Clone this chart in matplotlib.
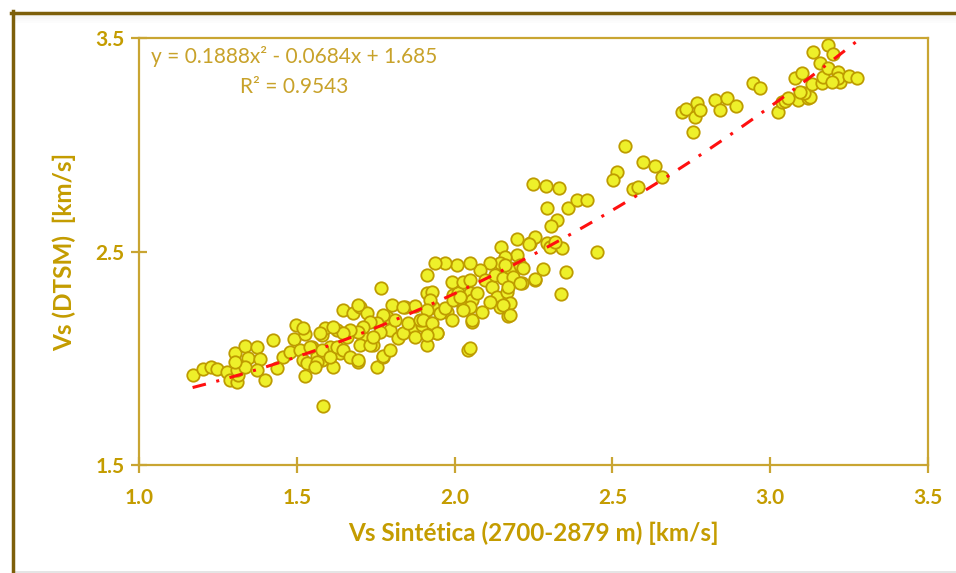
import numpy as np
import matplotlib
matplotlib.use("Agg")
import matplotlib.pyplot as plt
from matplotlib.lines import Line2D
from matplotlib.patches import Rectangle

# ---------------- data ----------------
vs_synthetic = [
    1.169, 1.203, 1.227, 1.247, 1.278, 1.288, 1.309, 1.313, 1.309, 1.303,
    1.335, 1.372, 1.346, 1.383, 1.335, 1.372, 1.399, 1.303, 1.425, 1.436,
    1.457, 1.478, 1.497, 1.490, 1.510, 1.525, 1.520, 1.525, 1.547, 1.562,
    1.578, 1.578, 1.589, 1.605, 1.615, 1.626, 1.636, 1.647, 1.658, 1.679,
    1.700, 1.710, 1.694, 1.721, 1.742, 1.753, 1.774, 1.768, 1.784, 1.800,
    1.795, 1.821, 1.842, 1.874, 1.869, 1.911, 1.911, 1.922, 1.932, 1.943,
    1.927, 1.975, 1.996, 2.011, 2.027, 2.049, 2.043, 2.054, 2.054, 1.581,
    1.694, 1.811, 1.774, 1.753, 1.763, 1.731, 1.710, 1.694, 1.668, 1.647,
    1.615, 1.573, 1.541, 1.520, 1.531, 1.562, 1.578, 1.557, 1.605, 1.626,
    1.647, 1.668, 1.694, 1.700, 1.731, 1.742, 1.774, 1.795, 1.837, 1.853,
    1.874, 1.895, 1.890, 1.837, 2.146, 2.197, 2.239, 2.255, 2.197, 2.159,
    2.144, 2.112, 2.080, 2.049, 2.006, 1.969, 1.938, 1.911, 1.922, 1.911,
    1.900, 1.927, 1.953, 1.969, 1.990, 2.027, 2.049, 2.070, 2.096, 2.117,
    2.128, 2.154, 2.175, 2.159, 2.207, 2.218, 2.186, 2.212, 2.255, 2.133,
    2.165, 2.175, 2.144, 2.112, 2.086, 2.049, 2.027, 1.996, 2.054, 2.170,
    1.943, 1.911, 2.049, 1.990, 2.017, 2.337, 2.281, 2.255, 2.352, 2.452,
    2.236, 2.292, 2.302, 2.339, 2.318, 2.170, 2.207, 2.152, 2.175,
    2.249, 2.289, 2.332, 2.294, 2.358, 2.389, 2.420, 2.325, 2.305, 2.514,
    2.503, 2.566, 2.580, 2.541, 2.596, 2.635, 2.656,
    2.720, 2.733, 2.762, 2.767, 2.778, 2.757, 2.827, 2.841, 2.864, 2.891,
    2.947, 2.968, 3.024, 3.037, 3.049, 3.079, 3.100, 3.089, 3.121, 3.127,
    3.107, 3.132, 3.137, 3.158, 3.183, 3.200, 3.164, 3.169, 3.185, 3.216,
    3.222, 3.216, 3.251, 3.276, 3.195, 3.058, 3.095,
]
vs_dtsm = [
    1.922, 1.948, 1.959, 1.948, 1.937, 1.898, 1.890, 1.922, 1.945, 2.025,
    2.058, 2.053, 2.000, 1.997, 1.961, 1.945, 1.898, 1.984, 2.086, 1.953,
    2.008, 2.031, 2.154, 2.091, 2.039, 2.114, 1.992, 1.919, 2.054, 2.011,
    1.992, 2.109, 2.141, 2.054, 1.961, 2.133, 2.024, 2.227, 2.101, 2.211,
    2.242, 2.101, 1.984, 2.211, 2.062, 1.961, 2.008, 2.330, 2.195, 2.250,
    2.133, 2.094, 2.242, 2.245, 2.148, 2.305, 2.062, 2.164, 2.242, 2.117,
    2.312, 2.219, 2.297, 2.305, 2.242, 2.305, 2.039, 2.172, 2.273, 1.777,
    2.250, 2.180, 2.203, 2.164, 2.125, 2.172, 2.148, 2.125, 2.133, 2.117,
    2.148, 2.117, 2.054, 2.141, 1.977, 1.984, 2.039, 1.961, 2.008, 2.054,
    2.039, 2.008, 1.992, 2.062, 2.062, 2.101, 2.011, 2.039, 2.117, 2.164,
    2.101, 2.156, 2.180, 2.242, 2.523, 2.558, 2.539, 2.570, 2.484, 2.476,
    2.445, 2.445, 2.414, 2.445, 2.437, 2.445, 2.445, 2.391, 2.273, 2.227,
    2.180, 2.164, 2.211, 2.234, 2.359, 2.359, 2.367, 2.305, 2.367, 2.336,
    2.391, 2.375, 2.422, 2.437, 2.437, 2.422, 2.383, 2.352, 2.367, 2.289,
    2.312, 2.258, 2.242, 2.265, 2.219, 2.242, 2.227, 2.273, 2.180, 2.198,
    2.117, 2.109, 2.047, 2.180, 2.289, 2.301, 2.417, 2.370, 2.406, 2.500,
    2.536, 2.539, 2.520, 2.517, 2.547, 2.336, 2.352, 2.250, 2.203,
    2.817, 2.808, 2.800, 2.706, 2.706, 2.742, 2.742, 2.648, 2.620, 2.875,
    2.836, 2.792, 2.802, 2.997, 2.922, 2.903, 2.851,
    3.156, 3.167, 3.133, 3.195, 3.164, 3.062, 3.211, 3.164, 3.222, 3.183,
    3.289, 3.266, 3.156, 3.203, 3.208, 3.313, 3.336, 3.211, 3.222, 3.226,
    3.244, 3.286, 3.437, 3.383, 3.469, 3.426, 3.289, 3.320, 3.359, 3.343,
    3.297, 3.314, 3.325, 3.315, 3.297, 3.219, 3.250,
]

# trend line coefficients (as printed on the chart)
coef_a, coef_b, coef_c = 0.1888, -0.0684, 1.685
equation_text = "y = 0.1888x² - 0.0684x + 1.685"
r2_text = "R² = 0.9543"

x_ticks = [1.0, 1.5, 2.0, 2.5, 3.0, 3.5]
x_tick_labels = ["1.0", "1.5", "2.0", "2.5", "3.0", "3.5"]
y_ticks = [1.5, 2.5, 3.5]
y_tick_labels = ["1.5", "2.5", "3.5"]
x_label = "Vs Sintética (2700-2879 m) [km/s]"
y_label = "Vs (DTSM)  [km/s]"

# ---------------- styling ----------------
plt.rcParams['font.family'] = ['Lato', 'DejaVu Sans']
gold_axis = "#C9A532"
gold_text = "#C49C00"
eq_color = "#C8A22A"
marker_face = "#EEF02A"
marker_edge = "#BE9C00"

fig = plt.figure(figsize=(9.56, 5.73), dpi=100)
fig.patch.set_facecolor("white")
ax = fig.add_axes([139.3 / 956, 1 - 465 / 573, (927.7 - 139.3) / 956, (465 - 38.3) / 573])

ax.scatter(vs_synthetic, vs_dtsm, s=80, facecolor=marker_face, edgecolor=marker_edge,
           linewidths=1.3, zorder=3)

xs = np.linspace(min(vs_synthetic), max(vs_synthetic), 300)
ys = coef_a * xs ** 2 + coef_b * xs + coef_c
ax.plot(xs, ys, color="#FF1010", lw=2.2, dashes=(4.5, 3.5, 1.0, 3.5), zorder=4)

ax.set_xlim(1.0, 3.5)
ax.set_ylim(1.5, 3.5)
ax.set_xticks(x_ticks)
ax.set_xticklabels(x_tick_labels)
ax.set_yticks(y_ticks)
ax.set_yticklabels(y_tick_labels)

for sp in ax.spines.values():
    sp.set_color(gold_axis)
    sp.set_linewidth(1.6)

ax.tick_params(axis="both", direction="inout", length=11, width=1.6, color=gold_axis,
               labelcolor=gold_text, labelsize=15, pad=5)
for lab in ax.get_xticklabels() + ax.get_yticklabels():
    lab.set_fontweight("bold")
ax.tick_params(axis="x", pad=11)

ax.set_xlabel(x_label, fontsize=17.5, fontweight="bold", color=gold_text, labelpad=10)
ax.set_ylabel(y_label, fontsize=17.5, fontweight="bold", color=gold_text, labelpad=14)

ax.text(0.196, 0.958, equation_text, transform=ax.transAxes, ha="center", va="center",
        fontsize=15, color=eq_color)
ax.text(0.196, 0.886, r2_text, transform=ax.transAxes, ha="center", va="center",
        fontsize=15, color=eq_color)

# outer frame (top and left dark gold edges, soft shadow at bottom)
W, H = 956.0, 573.0
frame_col = "#7D5F0A"
fig.add_artist(Line2D([11 / W, 1.0], [1 - 12.5 / H, 1 - 12.5 / H], transform=fig.transFigure,
                      color=frame_col, lw=2.5))
fig.add_artist(Line2D([12.5 / W, 12.5 / W], [0.0, 1 - 11 / H], transform=fig.transFigure,
                      color=frame_col, lw=2.5))
for i, a in enumerate([0.05, 0.04, 0.03, 0.02, 0.01]):
    fig.add_artist(Rectangle((14 / W, 1 - (15 + i * 2) / H), 1, 2 / H, transform=fig.transFigure,
                             color="black", alpha=a, lw=0))
    fig.add_artist(Rectangle((14 / W, (8 - i * 2) / H - 8 / H), 1, 2 / H, transform=fig.transFigure,
                             color="black", alpha=a * 2, lw=0))

fig.savefig("out.png", dpi=100)
